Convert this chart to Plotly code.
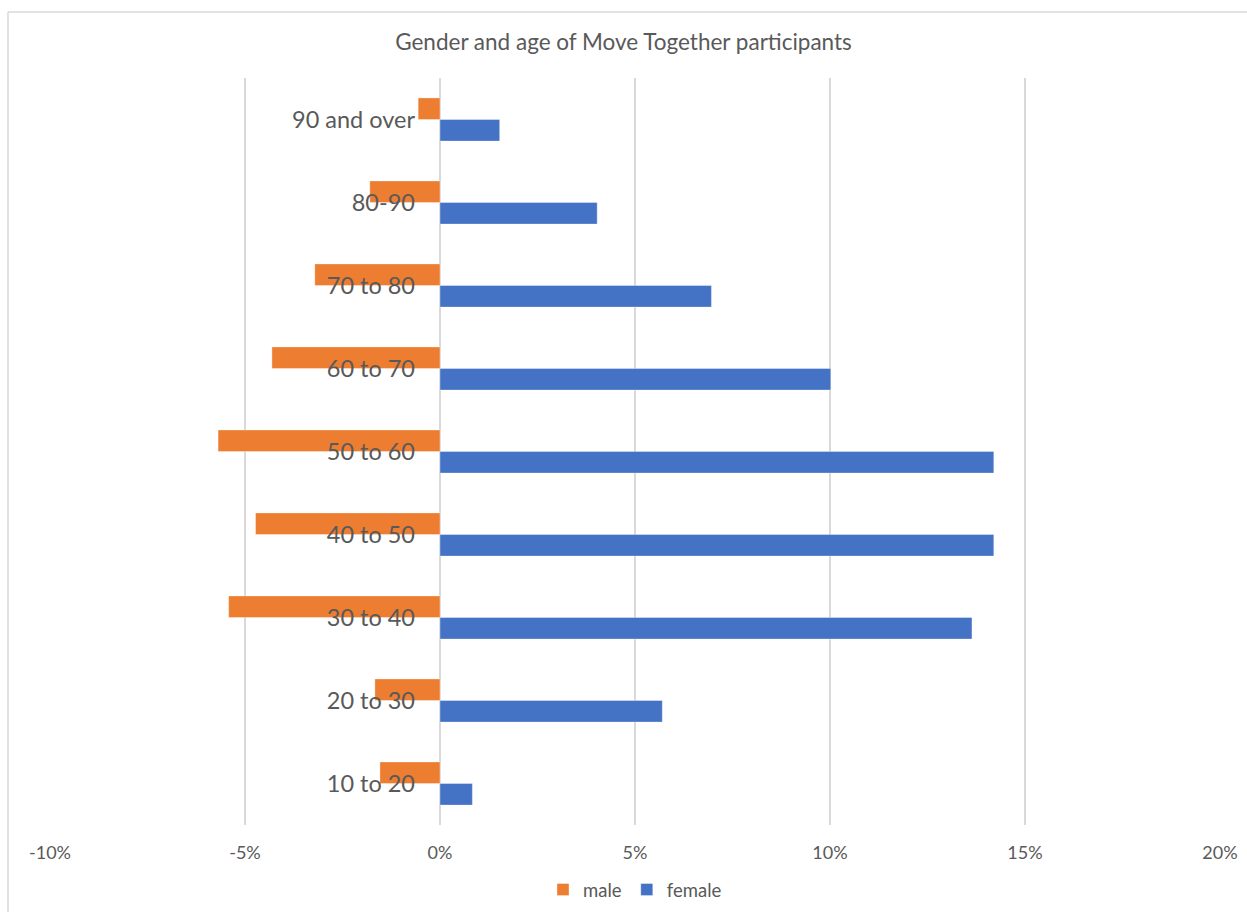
import plotly.graph_objects as go

categories = ["10 to 20", "20 to 30", "30 to 40", "40 to 50", "50 to 60",
              "60 to 70", "70 to 80", "80-90", "90 and over"]
male = [-1.54, -1.67, -5.42, -4.73, -5.69, -4.31, -3.21, -1.80, -0.56]
female = [0.83, 5.70, 13.64, 14.20, 14.20, 10.02, 6.96, 4.03, 1.53]
x_ticks = [-10, -5, 0, 5, 10, 15, 20]
x_tick_labels = ["-10%", "-5%", "0%", "5%", "10%", "15%", "20%"]

FONT = "Lato, 'Open Sans', sans-serif"
GREY = "#595959"
GRID = "#d9d9d9"

W, H = 1247, 912
ML, MR, MT, MB = 50, 27, 78, 87
PW, PH = W - ML - MR, H - MT - MB

def px_x(px):
    return (px - ML) / PW

def px_y(py):
    return (H - MB - py) / PH

fig = go.Figure()
fig.add_trace(go.Bar(
    y=categories, x=female, name="female", orientation="h",
    marker=dict(color="#4472C4", line=dict(color="rgba(255,255,255,0.5)", width=0.7)),
))
fig.add_trace(go.Bar(
    y=categories, x=male, name="male", orientation="h",
    marker=dict(color="#ED7D31", line=dict(color="rgba(255,255,255,0.5)", width=0.7)),
))

fig.update_layout(
    width=W, height=H,
    margin=dict(l=ML, r=MR, t=MT, b=MB, autoexpand=False),
    paper_bgcolor="white", plot_bgcolor="white",
    barmode="group", bargap=0.48, bargroupgap=0,
    font=dict(family=FONT, color=GREY),
    title=dict(text="Gender and age of Move Together participants",
               x=0.5, xanchor="center", xref="container",
               y=1 - 42 / H, yanchor="middle", yref="container",
               font=dict(size=22.5, color=GREY, family=FONT)),
    xaxis=dict(range=[-10, 20], tickvals=x_ticks, ticktext=x_tick_labels,
               showgrid=True, gridcolor=GRID, gridwidth=1.6,
               zeroline=False, showline=False, ticks="", automargin=False,
               tickfont=dict(size=18, color=GREY, family=FONT),
               ticklabelstandoff=15, fixedrange=True),
    yaxis=dict(type="category", categoryorder="array", categoryarray=categories,
               anchor="free", position=1 / 3, showgrid=False, zeroline=False,
               showline=False, ticks="", automargin=False,
               tickfont=dict(size=23.5, color=GREY, family=FONT),
               ticklabelstandoff=25, range=[-0.5, len(categories) - 0.5]),
    legend=dict(orientation="h", x=0.5, xanchor="center",
                y=(H - 890) / H, yanchor="middle", yref="container",
                traceorder="reversed",
                font=dict(size=18.5, color=GREY, family=FONT),
                itemwidth=30, bgcolor="rgba(0,0,0,0)"),
    showlegend=True,
    shapes=[
        dict(type="line", xref="paper", yref="paper",
             x0=px_x(8), x1=px_x(1260), y0=px_y(12), y1=px_y(12),
             line=dict(color=GRID, width=1.5)),
        dict(type="line", xref="paper", yref="paper",
             x0=px_x(8), x1=px_x(8), y0=px_y(12), y1=px_y(930),
             line=dict(color=GRID, width=1.5)),
    ],
)

fig.write_html("out.html")
